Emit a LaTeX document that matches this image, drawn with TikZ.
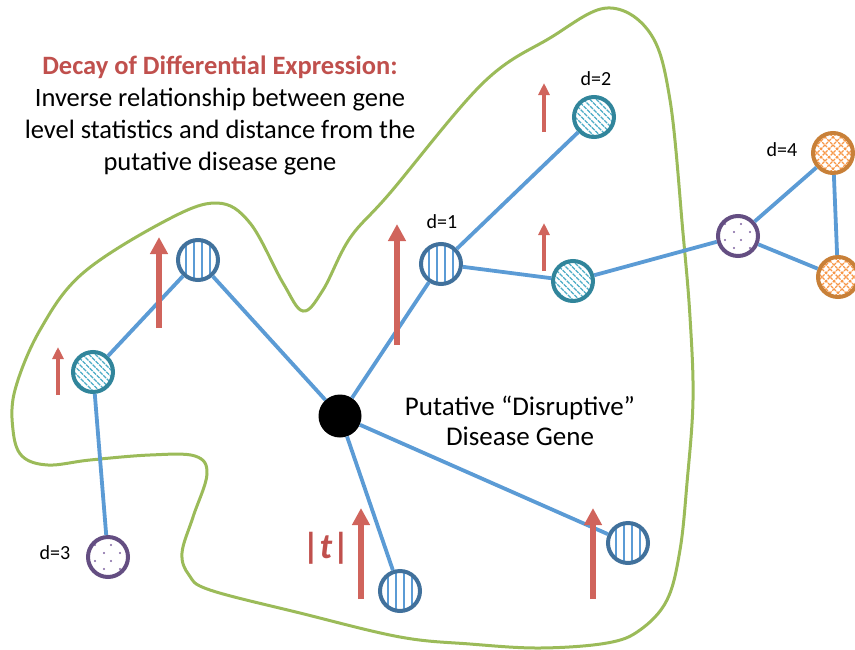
\documentclass[tikz,border=0pt]{standalone}
\usepackage{fontspec}
\setmainfont{Carlito}
\usetikzlibrary{arrows.meta}
\definecolor{linkblue}{RGB}{91,155,213}
\definecolor{stripeline}{RGB}{65,113,156}
\definecolor{hatchline}{RGB}{49,133,155}
\definecolor{hatchfill}{RGB}{75,172,198}
\definecolor{dotline}{RGB}{100,78,130}
\definecolor{dotfill}{RGB}{128,100,162}
\definecolor{crossline}{RGB}{200,128,56}
\definecolor{crossfill}{RGB}{247,150,70}
\definecolor{upred}{RGB}{208,100,92}
\definecolor{titlered}{RGB}{192,80,77}
\definecolor{blobgreen}{RGB}{155,187,89}
\tikzset{
  gene/.style={circle, minimum size=40pt, inner sep=0pt, line width=4pt, fill=white},
  stripe/.style={gene, draw=stripeline, path picture={
      \foreach \dx in {-12,-4,4,12}
        \draw[linkblue, line width=1.6pt] ([xshift=\dx pt]path picture bounding box.north) -- ([xshift=\dx pt]path picture bounding box.south);}},
  hatch/.style={gene, draw=hatchline, path picture={
      \foreach \k in {-32,-25.5,...,32}
        \draw[hatchfill, line width=1.3pt, dash pattern=on 4pt off 1pt] ([shift={(\k pt-25pt,25pt)}]path picture bounding box.center) -- ++(50pt,-50pt);}},
  dots/.style={gene, draw=dotline, path picture={
      \foreach \dx/\dy in {-13/-12,3/-12,-4/-4,12/-4,-13/4,3/4,-4/12,12/12}
        \fill[dotfill] ([shift={(\dx pt,-\dy pt)}]path picture bounding box.center) circle (1.2pt);}},
  cross/.style={gene, draw=crossline, path picture={
      \foreach \k in {-32,-24,...,32} {
        \draw[crossfill, line width=1.1pt, dash pattern=on 3pt off 1pt] ([shift={(\k pt-25pt,25pt)}]path picture bounding box.center) -- ++(50pt,-50pt);
        \draw[crossfill, line width=1.1pt, dash pattern=on 3pt off 1pt] ([shift={(\k pt-25pt,-25pt)}]path picture bounding box.center) -- ++(50pt,50pt);}}},
  hub/.style={circle, minimum size=43pt, inner sep=0pt, fill=black},
  link/.style={draw=linkblue, line width=3.8pt},
  bigup/.style={draw=upred, line width=6pt, -{Triangle[length=17pt,width=17pt]}},
  smallup/.style={draw=upred, line width=4pt, -{Triangle[length=12pt,width=11pt]}},
  dist/.style={font=\fontsize{20}{23}\selectfont},
  blob/.style={draw=blobgreen, line width=3pt}
}
\newcommand{\Lift}[4]{\draw[#1] (#2,#3) -- (#2,#4);}

\begin{document}
\begin{tikzpicture}[x=1pt,y=-1pt]
  \useasboundingbox (0,0) rectangle (855,649);
  % neighbourhood of the disease gene
  \draw[blob] plot[smooth cycle, tension=0.6] coordinates {
    (607,8) (650,33) (670,100) (683,233) (690,317) (693,400) (687,483)
    (680,550) (667,600) (640,630) (607,643) (540,648) (470,644) (400,637)
    (300,613) (210,590) (189,575) (182,553) (193,517) (207,474) (195,456)
    (150,455) (90,460) (48,465) (22,456) (13,430) (15,390) (40,330)
    (83,273) (167,220) (217,203) (250,223) (283,283) (303,311) (323,290)
    (350,238) (390,193) (483,83) (550,38)};

  \node[hub] (dg) at (340,416) {};
  \node[stripe] (a1) at (198,260) {};
  \node[hatch] (a2) at (93,372) {};
  \node[dots] (a3) at (108,557) {};
  \node[stripe] (b1) at (441,264) {};
  \node[hatch] (b2) at (594,117) {};
  \node[hatch] (b3) at (573,281) {};
  \node[dots] (b4) at (738,236) {};
  \node[cross] (b5) at (833,153) {};
  \node[cross] (b6) at (838,277) {};
  \node[stripe] (c1) at (400,591) {};
  \node[stripe] (c2) at (628,543) {};

  \draw[link] (dg) -- (a1);
  \draw[link] (a1) -- (a2);
  \draw[link] (a2) -- (a3);
  \draw[link] (dg) -- (b1);
  \draw[link] (b1) -- (b2);
  \draw[link] (b1) -- (b3);
  \draw[link] (b3) -- (b4);
  \draw[link] (b4) -- (b5);
  \draw[link] (b4) -- (b6);
  \draw[link] (b5) -- (b6);
  \draw[link] (dg) -- (c1);
  \draw[link] (dg) -- (c2);

  \Lift{bigup}{159}{328}{237}
  \Lift{smallup}{58}{395}{347}
  \Lift{bigup}{397}{345}{224}
  \Lift{smallup}{544}{132}{83}
  \Lift{smallup}{544}{271}{223}
  \Lift{bigup}{361}{599}{508}
  \Lift{bigup}{593}{599}{508}

  \node[dist] (l1) at (442,222) {d=1};
  \node[dist] (l2) at (596,79) {d=2};
  \node[dist] (l3) at (55,553) {d=3};
  \node[dist] (l4) at (782,150) {d=4};

  \node[align=center, font=\fontsize{26.5}{32}\selectfont] (title) at (220,115)
    {{\color{titlered}\bfseries Decay of Differential Expression:}\\
     Inverse relationship between gene\\
     level statistics and distance from the\\
     putative disease gene};
  \node[align=center, font=\fontsize{27}{30}\selectfont] (dglabel) at (520,421)
    {Putative “Disruptive”\\ Disease Gene};
  \node[text=titlered, font=\fontsize{36}{40}\selectfont\bfseries] (tabs) at (326,548) {|\textit{t}|};
\end{tikzpicture}
\end{document}
